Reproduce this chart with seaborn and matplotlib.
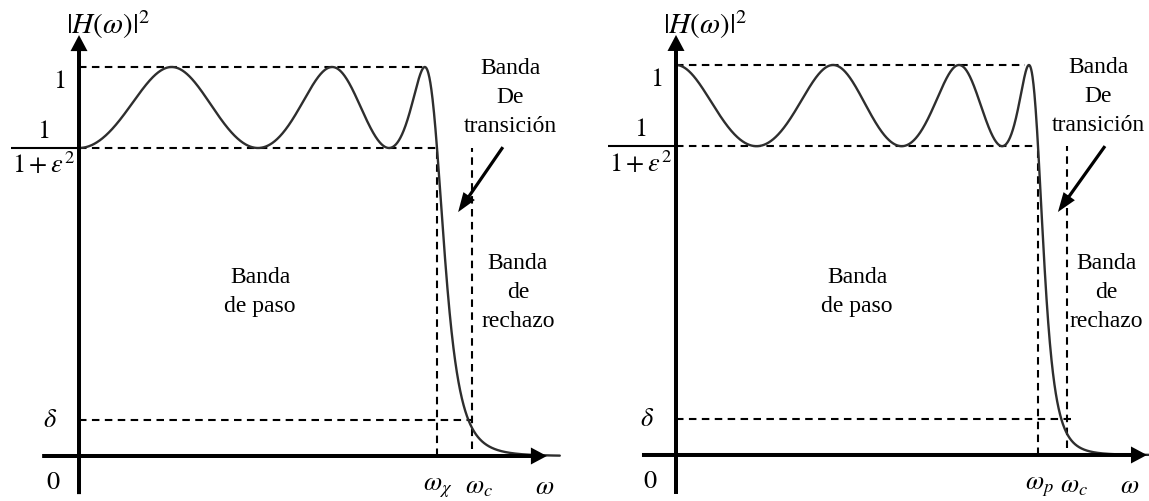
import numpy as np
import pandas as pd
import matplotlib
matplotlib.use("Agg")
import matplotlib.pyplot as plt
import seaborn as sns
from numpy.polynomial import chebyshev as C

# Chebyshev type-I low-pass responses: |H(w)|^2 = 1 / (1 + eps^2 * T_N(w / w_p)^2)
panel_orders = [6, 7]                          # even order (left), odd order (right)
ripple_eps2 = 0.263                            # eps^2
stop_level = 0.0925                            # delta
cutoff_freqs = [1.098, 1.080]                  # w_c / w_p
edge_labels = [r"$\omega_\chi$", r"$\omega_p$"]
curve_ends = [1.343, 1.31]

band_texts = ["Banda\nde paso", "Banda\nDe\ntransición", "Banda\nde\nrechazo"]

sns.set_theme(style="white")
plt.rcParams["font.family"] = ["Liberation Serif", "DejaVu Serif"]
plt.rcParams["mathtext.fontset"] = "stix"

W, H = 1149, 502
fig = plt.figure(figsize=(W / 100, H / 100), dpi=100)
fig.patch.set_facecolor("white")

# axes placement and per-panel layout (axes-in-data units)
layout = [
    dict(rect=[0, 0, 575 / W, 1], xlim=(-0.2207, 1.3855), ylim=(-0.1157, 1.1748),
         xaxis=(-0.103, 1.307), yaxis=(-0.098, 1.082), px=(358, 389),
         top_end=0.962, delta_end_pad=0.0, bar_start=-0.19,
         paso=(0.506, 0.424), trans=(1.204, 0.925), rech=(1.226, 0.422),
         arrow=((1.184, 0.794), (1.059, 0.627)), omega_dx=-2),
    dict(rect=[575 / W, 0, 574 / W, 1], xlim=(-0.2790, 1.3066), ylim=(-0.1180, 1.1692),
         xaxis=(-0.094, 1.301), yaxis=(-0.100, 1.077), px=(362, 390),
         top_end=0.964, delta_end_pad=0.014, bar_start=-0.188,
         paso=(0.500, 0.421), trans=(1.166, 0.921), rech=(1.188, 0.418),
         arrow=((1.185, 0.792), (1.055, 0.623)), omega_dx=-17),
]

pass_level = 1.0 / (1.0 + ripple_eps2)
dash = (0, (3.6, 2.6))
guide_lw = 1.5
curve_color = "#2e2e2e"
math_fs = 19
text_fs = 17

for k in range(2):
    L = layout[k]
    ax = fig.add_axes(L["rect"])
    sx, sy = L["px"]

    # response curve
    w = np.linspace(0, curve_ends[k], 2000)
    T = C.Chebyshev.basis(panel_orders[k])
    resp = pd.DataFrame({"w": w, "H2": 1.0 / (1.0 + ripple_eps2 * T(w) ** 2)})
    sns.lineplot(data=resp, x="w", y="H2", ax=ax, color=curve_color, lw=1.7,
                 estimator=None, sort=False, zorder=3)
    ax.set_xlim(*L["xlim"])
    ax.set_ylim(*L["ylim"])
    ax.set_axis_off()

    wc = cutoff_freqs[k]
    # guide lines
    ax.plot([0, L["top_end"]], [1, 1], color="black", lw=guide_lw, ls=dash)
    ax.plot([0, 1.0], [pass_level, pass_level], color="black", lw=guide_lw, ls=dash)
    ax.plot([1.0, 1.0], [0, pass_level], color="black", lw=guide_lw, ls=dash)
    ax.plot([wc, wc], [0.018, pass_level], color="black", lw=guide_lw, ls=dash)
    ax.plot([0, wc + L["delta_end_pad"]], [stop_level, stop_level], color="black",
            lw=guide_lw, ls=dash)

    # coordinate axes with arrowheads
    x0, x1 = L["xaxis"]
    y0, y1 = L["yaxis"]
    ax.arrow(x0, 0, x1 - x0, 0, width=4 / sy, head_width=17 / sy, head_length=16 / sx,
             length_includes_head=True, color="black", lw=0, zorder=4)
    ax.arrow(0, y0, 0, y1 - y0, width=4 / sx, head_width=17 / sx, head_length=16 / sy,
             length_includes_head=True, color="black", lw=0, zorder=4)

    # fraction bar of 1/(1+eps^2)
    ax.plot([L["bar_start"], 0], [pass_level, pass_level], color="black", lw=1.5,
            solid_capstyle="butt")

    def lab(s, xy, off, fs=math_fs, ha="center"):
        ax.annotate(s, xy=xy, xytext=off, textcoords="offset pixels",
                    ha=ha, va="center", fontsize=fs, color="black")

    lab(r"$|H(\omega)|^2$", (0, y1), (29, 11), fs=21)
    lab(r"$1$", (0, 1), (-20, -14))
    lab(r"$1$", (0, pass_level), (-36, 17))
    lab(r"$1+\varepsilon^2$", (0, pass_level), (-35, -16))
    lab(r"$\delta$", (0, stop_level), (-29, 0))
    lab(r"$0$", (0, 0), (-26, -26))
    lab(edge_labels[k], (1.0, 0), (1, -31))
    lab(r"$\omega_c$", (wc, 0), (7, -31))
    lab(r"$\omega$", (x1, 0), (L["omega_dx"], -31))

    # band descriptions
    for txt, pos in zip(band_texts, [L["paso"], L["trans"], L["rech"]]):
        ax.text(pos[0], pos[1], txt, ha="center", va="center", fontsize=text_fs,
                linespacing=1.5, color="black")

    # arrow pointing at the transition band
    (ax0, ay0), (ax1, ay1) = L["arrow"]
    ax.annotate("", xy=(ax1, ay1), xytext=(ax0, ay0),
                arrowprops=dict(width=2.3, headwidth=10, headlength=14,
                                facecolor="black", edgecolor="black", lw=0, shrink=0))

fig.savefig("out.png", dpi=100, facecolor="white")
